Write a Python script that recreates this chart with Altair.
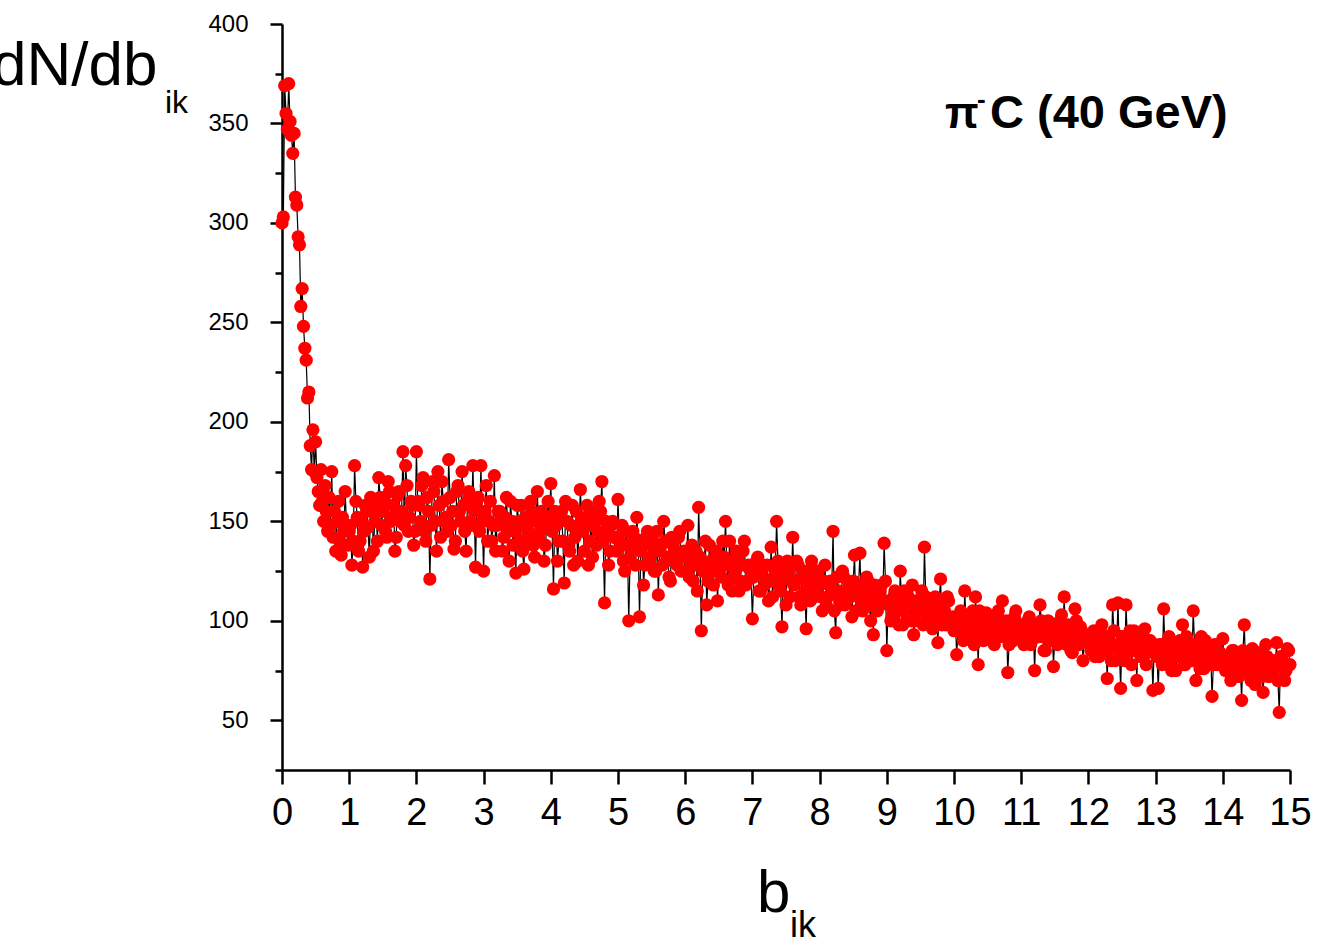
import altair as alt
import pandas as pd

# b_ik values 0.00 .. 0.98 (step 0.02)
head_y = [300, 303, 369, 355, 347, 370, 351, 344, 335, 345,
          313, 309, 293, 289, 258, 267, 248, 237, 231, 212,
          215, 188, 176, 196, 175, 190, 172, 165, 158, 176,
          160, 150, 168, 155, 145, 162, 148, 175, 142, 155,
          135, 150, 160, 140, 133, 152, 145, 165, 148, 138]

# b_ik values 1.00 .. 15.00 (step 0.04)
tail_y = [
    145, 128, 178, 152, 140, 127, 158, 147, 162, 135, 155, 172, 148, 160, 142, 165, 152, 135, 163, 150, 185, 178, 145, 160, 138,
    185, 158, 168, 145, 162, 121, 170, 150, 175, 142, 160, 152, 181, 148, 136, 165, 155, 175, 145, 160, 150, 178, 127, 162, 178,
    125, 168, 150, 140, 173, 148, 155, 135, 152, 145, 160, 138, 124, 150, 158, 126, 147, 140, 155, 132, 165, 145, 150, 138, 160,
    169, 116, 148, 140, 155, 119, 150, 135, 158, 142, 130, 166, 145, 152, 128, 148, 155, 138, 160, 170, 109, 145, 135, 150, 142,
    161, 138, 130, 145, 100, 135, 142, 152, 102, 140, 128, 145, 132, 140, 125, 113, 138, 150, 130, 122, 142, 135, 128, 145, 132,
    125, 148, 130, 120, 135, 157, 95, 128, 108, 138, 125, 132, 110, 128, 140, 150, 118, 130, 122, 135, 115, 128, 140, 120, 126,
    101, 125, 132, 115, 128, 120, 110, 137, 122, 150, 118, 97, 125, 130, 112, 142, 120, 128, 108, 125, 96, 118, 130, 112, 122,
    118, 105, 128, 112, 120, 145, 94, 115, 108, 122, 110, 118, 102, 133, 115, 134, 105, 112, 120, 100, 93, 115, 108, 118, 139,
    85, 110, 102, 115, 105, 125, 98, 108, 112, 100, 93, 110, 105, 115, 137, 102, 108, 96, 112, 89, 121, 104, 98, 110, 100,
    95, 83, 102, 96, 115, 100, 92, 105, 112, 78, 98, 90, 104, 95, 100, 88, 102, 94, 110, 92, 74, 98, 90, 105, 96,
    98, 88, 95, 102, 90, 75, 96, 108, 92, 85, 100, 94, 77, 98, 90, 103, 112, 88, 95, 84, 106, 92, 97, 80, 90,
    92, 85, 95, 88, 82, 98, 90, 71, 86, 108, 80, 109, 66, 92, 108, 85, 78, 95, 70, 88, 82, 96, 84, 90, 65,
    85, 66, 88, 106, 80, 92, 75, 86, 82, 90, 98, 78, 84, 88, 105, 70, 82, 92, 76, 85, 80, 62, 88, 78, 84,
    91, 75, 82, 70, 85, 78, 72, 60, 98, 80, 74, 86, 68, 79, 83, 64, 88, 72, 80, 76, 89, 54, 82, 70, 86,
    78,
]

# b_ik values 1.02 .. 14.98 (step 0.04), the points in between
mid_y = [
    148, 140, 160, 135, 150, 145, 155, 132, 158, 150, 140, 162, 155, 145, 170, 150, 158, 142, 165, 155, 148, 168, 152, 158, 145,
    160, 150, 172, 140, 155, 148, 165, 135, 158, 170, 150, 145, 162, 155, 140, 168, 150, 158, 135, 165, 148, 155, 160, 145, 150,
    155, 140, 160, 148, 135, 155, 150, 142, 162, 130, 150, 145, 158, 140, 135, 152, 145, 160, 138, 150, 142, 155, 130, 148, 152,
    145, 155, 130, 150, 140, 160, 138, 148, 128, 155, 145, 150, 135, 158, 140, 132, 150, 145, 155, 140, 150, 128, 148, 142, 135,
    140, 148, 125, 138, 132, 145, 128, 140, 135, 118, 142, 130, 138, 125, 145, 135, 128, 140, 132, 120, 138, 130, 142, 125, 135,
    132, 122, 138, 128, 115, 132, 125, 140, 120, 130, 118, 135, 125, 122, 132, 128, 140, 115, 125, 132, 120, 135, 118, 128, 122,
    122, 130, 115, 125, 118, 128, 120, 112, 125, 130, 115, 122, 108, 125, 120, 118, 130, 112, 122, 115, 125, 110, 120, 118, 125,
    112, 120, 108, 118, 115, 105, 122, 110, 125, 108, 115, 112, 120, 105, 118, 110, 115, 122, 108, 112, 118, 105, 115, 110, 120,
    108, 100, 112, 105, 98, 110, 115, 102, 108, 118, 100, 105, 110, 98, 112, 105, 100, 108, 102, 110, 98, 105, 112, 100, 102,
    100, 95, 105, 90, 98, 102, 95, 88, 100, 105, 92, 98, 95, 102, 90, 98, 105, 92, 97, 100, 88, 95, 102, 93, 98,
    95, 90, 100, 88, 95, 98, 92, 100, 85, 95, 90, 98, 92, 88, 100, 95, 90, 98, 85, 93, 100, 88, 95, 90, 92,
    88, 92, 82, 90, 95, 85, 88, 92, 80, 95, 88, 85, 92, 80, 90, 95, 85, 88, 92, 82, 88, 78, 90, 85, 88,
    82, 88, 78, 85, 90, 80, 85, 75, 88, 82, 78, 92, 85, 80, 88, 82, 76, 85, 90, 80, 84, 78, 86, 80, 82,
    78, 82, 75, 85, 72, 80, 78, 85, 75, 82, 70, 80, 76, 84, 72, 78, 82, 74, 80, 76, 70, 82, 78, 75, 85,
]

b_vals = ([round(i * 0.02, 2) for i in range(len(head_y))]
          + [round(1.0 + i * 0.04, 2) for i in range(len(tail_y))]
          + [round(1.02 + i * 0.04, 2) for i in range(len(mid_y))])
dn_vals = head_y + tail_y + mid_y

x_ticks = [i * 0.5 for i in range(31)]
y_ticks = [25 * i for i in range(1, 17)]

df = pd.DataFrame({"b": b_vals, "dn": dn_vals}).sort_values("b").reset_index(drop=True)

FONT = "Liberation Sans"

x_enc = alt.X(
    "b:Q",
    scale=alt.Scale(domain=[0, 15], nice=False, zero=False),
    axis=alt.Axis(
        values=x_ticks,
        labelExpr="datum.value % 1 === 0 ? '' + datum.value : ''",
        tickSize={"condition": {"test": "datum.value % 1 === 0", "value": 14}, "value": 7},
        tickWidth=2.5, tickColor="black",
        domainWidth=2.5, domainColor="black",
        labelFont=FONT, labelFontSize=38, labelColor="black",
        labelPadding=10, labelOverlap=False, labelFlush=False,
        grid=False, title=None,
    ),
)
y_enc = alt.Y(
    "dn:Q",
    scale=alt.Scale(domain=[25, 400], nice=False, zero=False),
    axis=alt.Axis(
        values=y_ticks,
        labelExpr="datum.value % 50 === 0 ? '' + datum.value : ''",
        tickSize={"condition": {"test": "datum.value % 50 === 0", "value": 12}, "value": 7},
        tickWidth=2.5, tickColor="black",
        domainWidth=2.5, domainColor="black",
        labelFont=FONT, labelFontSize=24, labelColor="black",
        labelPadding=22, labelOverlap=False, labelFlush=False,
        grid=False, title=None,
    ),
)

base = alt.Chart(df)
line = base.mark_line(color="black", strokeWidth=1.2).encode(x=x_enc, y=y_enc, order="b:Q")
pts = base.mark_circle(size=175, color="#ff0000", opacity=1).encode(x="b:Q", y="dn:Q")

one = pd.DataFrame({"k": [0]})


def txt(s, x, y, size, weight="normal", align="left"):
    return alt.Chart(one).mark_text(
        text=s, font=FONT, fontSize=size, fontWeight=weight, color="black",
        align=align, baseline="alphabetic",
    ).encode(x=alt.value(x), y=alt.value(y))


# positions relative to the plot origin (282, 24)
ytitle = txt("dN/db", -290, 61, 62)
ytitle_sub = txt("ik", -117, 89, 32)
xtitle = txt("b", 475, 888, 60)
xtitle_sub = txt("ik", 508, 913, 36)
ann1 = txt("\u03c0", 663, 104, 44, "bold")
ann2 = txt("-", 695, 84, 26, "bold")
ann3 = txt("C (40 GeV)", 708, 104, 47, "bold")

chart = alt.layer(
    line, pts, ytitle, ytitle_sub, xtitle, xtitle_sub, ann1, ann2, ann3
).properties(
    width=1008, height=746,
    autosize=alt.AutoSizeParams(type="none"),
    padding={"left": 282, "top": 24, "right": 27, "bottom": 169},
    background="white",
).configure_view(stroke=None)

chart.save("out.html", embed_options={"renderer": "svg", "actions": False})
